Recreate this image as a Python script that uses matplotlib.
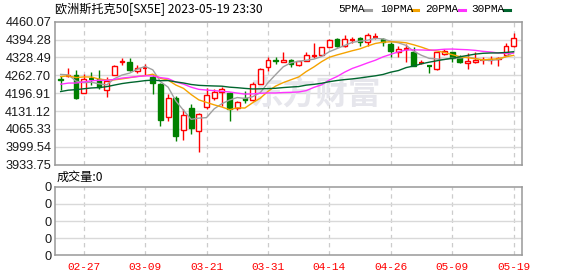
import matplotlib
matplotlib.use('Agg')
import matplotlib.pyplot as plt
import numpy as np
import pandas as pd
from matplotlib.patches import Rectangle
from matplotlib.lines import Line2D

# ---------------- data ----------------
dates = ["02-22", "02-23", "02-24", "02-27", "02-28", "03-01", "03-02", "03-03", "03-06", "03-07",
         "03-08", "03-09", "03-10", "03-13", "03-14", "03-15", "03-16", "03-17", "03-20", "03-21",
         "03-22", "03-23", "03-24", "03-27", "03-28", "03-29", "03-30", "03-31", "04-03", "04-04",
         "04-05", "04-06", "04-11", "04-12", "04-13", "04-14", "04-17", "04-18", "04-19", "04-20",
         "04-21", "04-24", "04-25", "04-26", "04-27", "04-28", "05-02", "05-03", "05-04", "05-05",
         "05-08", "05-09", "05-10", "05-11", "05-12", "05-15", "05-16", "05-17", "05-18", "05-19"]
opens = [4250, 4259, 4264, 4198, 4249, 4248, 4210, 4265, 4311, 4310,
         4278, 4288, 4257, 4232, 4110, 4178, 4063, 4142, 4059, 4145,
         4178, 4200, 4196, 4141, 4178, 4173, 4232, 4292, 4320, 4313,
         4320, 4299, 4316, 4333, 4338, 4368, 4396, 4372, 4391, 4399,
         4387, 4403, 4396, 4379, 4350, 4358, 4350, 4308, 4298, 4286,
         4341, 4347, 4330, 4309, 4310, 4318, 4319, 4322, 4338, 4372]
closes = [4246, 4262, 4181, 4250, 4247, 4218, 4241, 4297, 4316, 4283,
          4290, 4291, 4235, 4098, 4181, 4038, 4118, 4069, 4120, 4190,
          4200, 4212, 4137, 4166, 4173, 4232, 4286, 4319, 4316, 4318,
          4305, 4314, 4338, 4337, 4366, 4393, 4372, 4396, 4394, 4387,
          4411, 4406, 4385, 4351, 4359, 4363, 4298, 4311, 4295, 4347,
          4353, 4327, 4310, 4314, 4320, 4321, 4322, 4326, 4369, 4399]
highs = [4262, 4288, 4284, 4269, 4275, 4282, 4255, 4302, 4326, 4326,
         4302, 4303, 4265, 4236, 4193, 4186, 4139, 4158, 4125, 4215,
         4214, 4218, 4200, 4168, 4206, 4238, 4290, 4330, 4330, 4349,
         4323, 4316, 4348, 4381, 4368, 4396, 4400, 4411, 4402, 4405,
         4418, 4418, 4399, 4384, 4372, 4378, 4368, 4318, 4302, 4350,
         4358, 4350, 4338, 4344, 4347, 4330, 4332, 4330, 4383, 4418]
lows = [4210, 4256, 4174, 4196, 4228, 4211, 4183, 4263, 4302, 4277,
        4271, 4265, 4195, 4076, 4093, 4021, 4025, 4047, 3981, 4137,
        4172, 4150, 4095, 4135, 4162, 4170, 4230, 4279, 4306, 4311,
        4295, 4297, 4314, 4326, 4337, 4366, 4368, 4368, 4381, 4372,
        4372, 4396, 4369, 4330, 4330, 4310, 4296, 4305, 4271, 4284,
        4339, 4310, 4307, 4286, 4309, 4305, 4306, 4298, 4332, 4368]
# closes before the visible window (estimated from the starting MA levels)
prior_closes = [4110, 4125, 4150, 4160, 4175, 4140, 4120, 4150, 4165, 4195,
                4180, 4175, 4170, 4160, 4185, 4240, 4235, 4215, 4230, 4230,
                4235, 4245, 4225, 4250, 4295, 4270, 4295, 4280, 4239]
ma_periods = [5, 10, 20, 30]
ma_labels = ["5PMA", "10PMA", "20PMA", "30PMA"]
ma_colors = ["#a0a0a0", "#f5a300", "#ff33ff", "#00662e"]
date_ticks = ["02-27", "03-09", "03-21", "03-31", "04-14", "04-26", "05-09", "05-19"]
y_min, y_max = 3933.75, 4460.07
title = "欧洲斯托克50[SX5E] 2023-05-19 23:30"
vol_label = "成交量:0"
watermark = "东方财富"

# ---------------- layout ----------------
W, H = 578, 276
fig = plt.figure(figsize=(W / 100, H / 100), dpi=100)
fig.patch.set_facecolor("white")


def rect(l, t, r, b):
    return [l / W, 1 - b / H, (r - l) / W, (b - t) / H]


def fx(x):
    return x / W


def fy(y):
    return 1 - y / H


ax = fig.add_axes(rect(55.3, 21.7, 522, 164.7))
axv = fig.add_axes(rect(55.3, 186.7, 522, 255.3))

n = len(closes)
xs = np.arange(n)
xlim = (-0.70, n - 1 + 1.1)
spine_c = "#999999"
grid_c = "#d9d9d9"
tick_idx = [dates.index(d) for d in date_ticks]

for a in (ax, axv):
    a.set_xlim(*xlim)
    for s in a.spines.values():
        s.set_color(spine_c)
        s.set_linewidth(1.1)
    a.tick_params(length=0)
    for ti in tick_idx:
        a.axvline(ti, color="#cccccc", lw=0.9, ls=(0, (3.5, 3)), zorder=0)

# price axis
ax.set_ylim(y_min, y_max)
yt = np.linspace(y_min, y_max, 9)
ax.set_yticks(yt)
ax.set_yticklabels([f"{v:.2f}" for v in yt], fontsize=9.2, family="Liberation Sans", color="#1a1a1a")
ax.tick_params(axis="y", pad=3)
ax.set_xticks([])
for v in yt[1:-1]:
    ax.axhline(v, color=grid_c, lw=1.0, zorder=0)

# watermark
ax.text(33.2, 4194, watermark, fontsize=23.5, color="#e6e6ec", family="Noto Sans CJK SC",
        fontweight="bold", ha="center", va="center", zorder=1)

# candles
bw = 0.62
for i in xs:
    o, c, h, l = opens[i], closes[i], highs[i], lows[i]
    up = c >= o
    col = "#ff0000" if up else "#008000"
    ax.vlines(i, l, h, color=col, lw=1.0, zorder=3)
    lo, hi = min(o, c), max(o, c)
    if hi - lo < 3.5:
        ax.hlines((o + c) / 2, i - bw / 2, i + bw / 2, color=col, lw=1.6, zorder=4)
    else:
        ax.add_patch(Rectangle((i - bw / 2, lo), bw, hi - lo,
                               facecolor="white" if up else col, edgecolor=col,
                               lw=1.0, zorder=4))

# moving averages
allc = pd.Series(prior_closes + closes, dtype=float)
for p, col in zip(ma_periods, ma_colors):
    ma = allc.rolling(p).mean().to_numpy()[-n:]
    ax.plot(xs, ma, color=col, lw=1.0, zorder=5)

# volume axis
axv.set_ylim(0, 1)
vt = np.linspace(0, 1, 5)
axv.set_yticks(vt)
axv.set_yticklabels(["0"] * 5, fontsize=9.2, family="Liberation Sans", color="#1a1a1a")
axv.tick_params(axis="y", pad=3)
for v in vt[1:-1]:
    axv.axhline(v, color=grid_c, lw=1.0, zorder=0)
axv.set_xticks(tick_idx)
axv.set_xticklabels(date_ticks, fontsize=8.0, family="Liberation Mono", color="#ff0000")
axv.tick_params(axis="x", pad=5)

# texts
fig.text(fx(55), fy(9.5), title, fontsize=8.7, family=["Noto Sans CJK SC", "DejaVu Sans"],
         color="#000000", ha="left", va="center")
fig.text(fx(57), fy(177.5), vol_label, fontsize=8.7, family=["Noto Sans CJK SC", "DejaVu Sans"],
         color="#000000", ha="left", va="center")

leg_text_x = [338, 379.7, 425.3, 471.3]
leg_mark_x = [364.7, 412.0, 458.7, 504.0]
for lab, col, tx, mx in zip(ma_labels, ma_colors, leg_text_x, leg_mark_x):
    fig.text(fx(tx), fy(9.5), lab, fontsize=8.0, family="Liberation Mono", color="#000000",
             ha="left", va="center")
    fig.add_artist(Line2D([fx(mx), fx(mx + 6)], [fy(10), fy(10)], color=col, lw=2.2,
                          transform=fig.transFigure))

fig.savefig("out.png", dpi=100, facecolor="white")
